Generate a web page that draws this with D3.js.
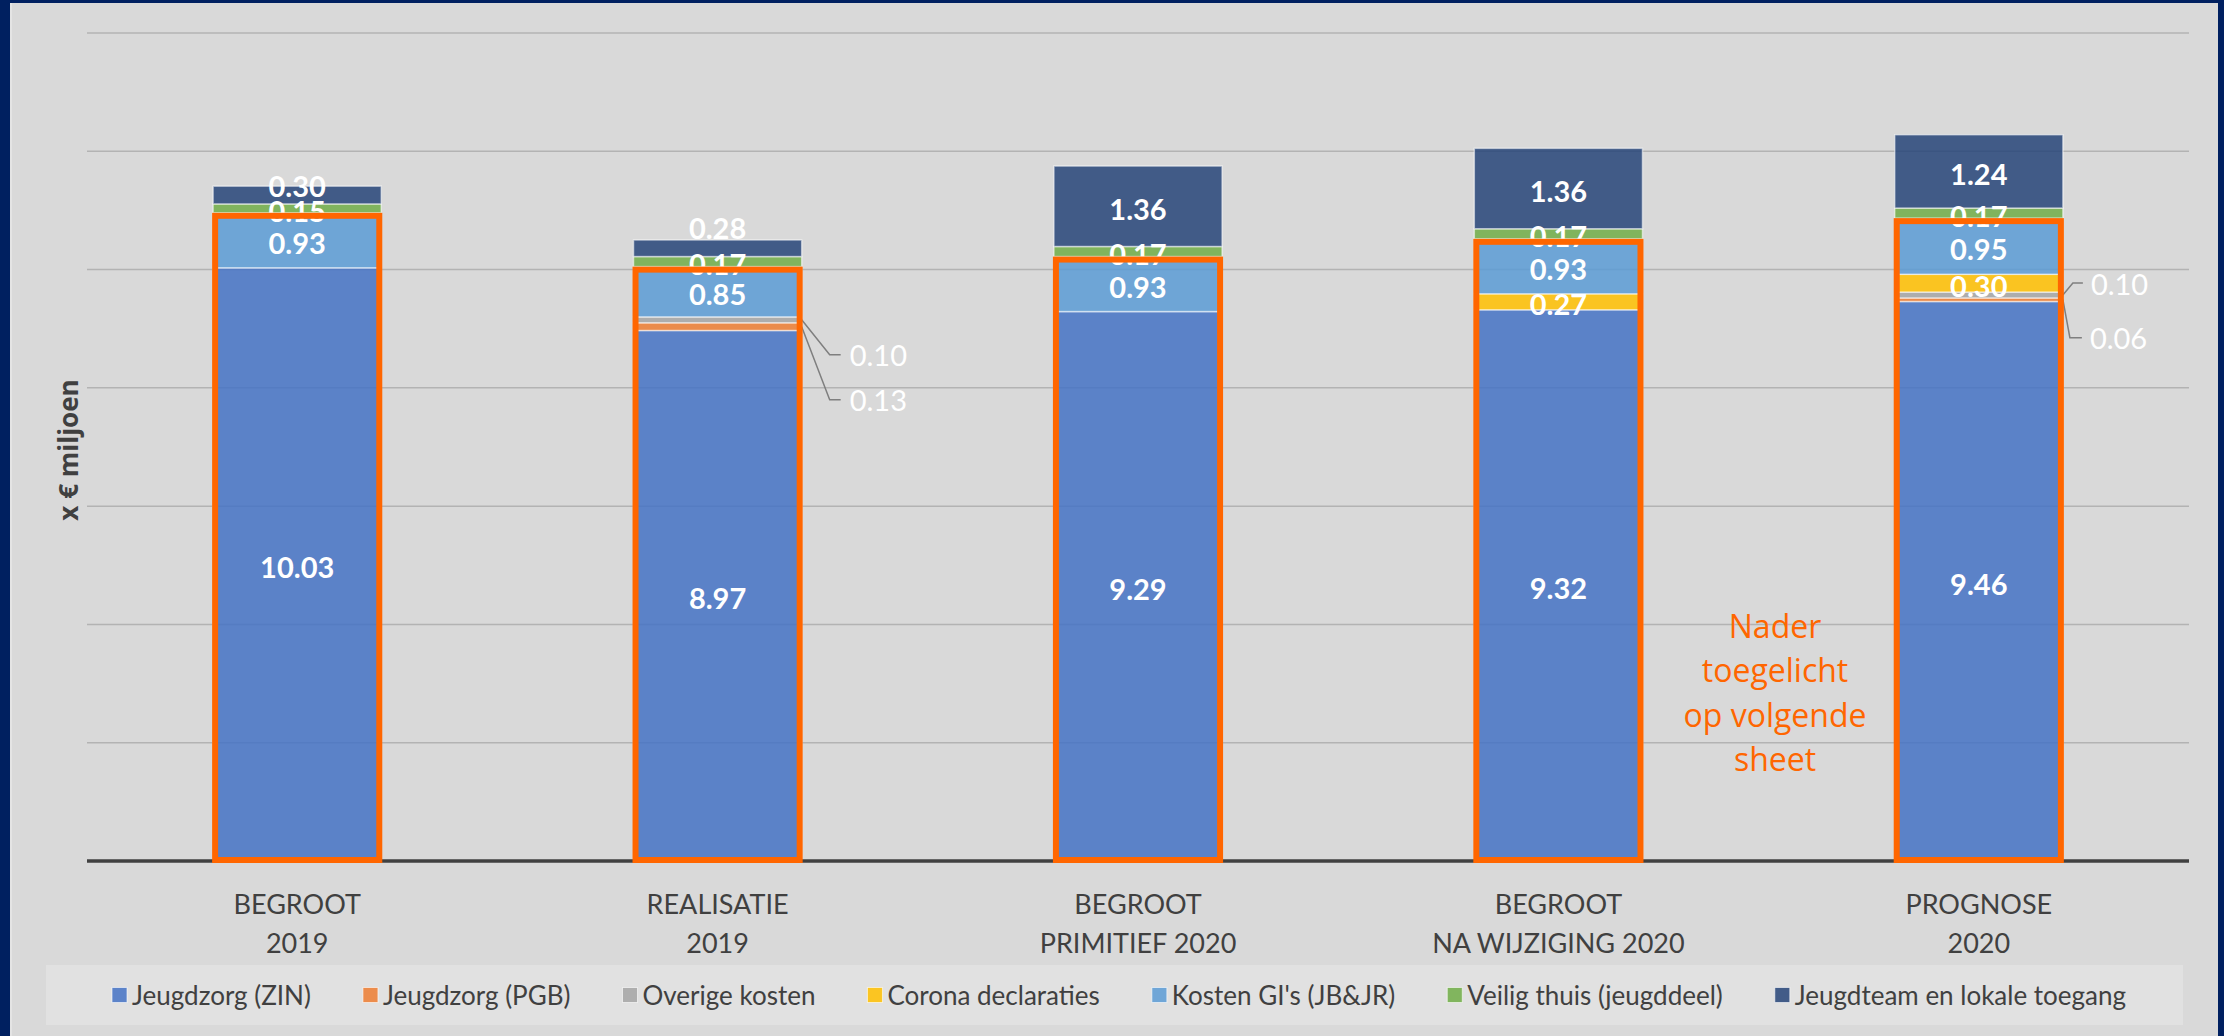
<!DOCTYPE html>
<html><head><meta charset="utf-8">
<script src="https://cdn.jsdelivr.net/npm/d3@7/dist/d3.min.js"></script>
<style>html,body{margin:0;padding:0;background:#002060;}svg{display:block;}</style>
</head><body>
<svg id="chart" width="2224" height="1036"></svg>
<script>
// ---- data ----
const categories = ["BEGROOT|2019", "REALISATIE|2019", "BEGROOT|PRIMITIEF 2020", "BEGROOT|NA WIJZIGING 2020", "PROGNOSE|2020"];
const seriesNames = ["Jeugdzorg (ZIN)", "Jeugdzorg (PGB)", "Overige kosten", "Corona declaraties", "Kosten GI's (JB&JR)", "Veilig thuis (jeugddeel)", "Jeugdteam en lokale toegang"];
const jeugdzorgZIN = [10.03, 8.97, 9.29, 9.32, 9.46];
const jeugdzorgPGB = [0, 0.13, 0, 0, 0.06];
const overigeKosten = [0, 0.10, 0, 0, 0.10];
const coronaDeclaraties = [0, 0, 0, 0.27, 0.30];
const kostenGI = [0.93, 0.85, 0.93, 0.93, 0.95];
const veiligThuis = [0.15, 0.17, 0.17, 0.17, 0.17];
const jeugdteam = [0.30, 0.28, 1.36, 1.36, 1.24];
const yTicks = [0, 2, 4, 6, 8, 10, 12, 14];
const annotationLines = ["Nader", "toegelicht", "op volgende", "sheet"];
const axisTitle = "x  € miljoen";

// ---- styling / layout ----
const colors = ["#4472C4", "#ED7D31", "#A5A5A5", "#FFC000", "#5B9BD5", "#70AD47", "#264478"];
const seriesData = [jeugdzorgZIN, jeugdzorgPGB, overigeKosten, coronaDeclaraties, kostenGI, veiligThuis, jeugdteam];
const keys = seriesNames;
const table = categories.map((c, i) => {
  const row = {cat: c};
  keys.forEach((k, j) => row[k] = seriesData[j][i]);
  return row;
});

const svg = d3.select("#chart");
const W = 2224, H = 1036;
svg.append("rect").attr("x", 0).attr("y", 0).attr("width", W).attr("height", H).attr("fill", "#002060");
svg.append("rect").attr("x", 10).attr("y", 3).attr("width", 2208).attr("height", H - 3).attr("fill", "#d9d9d9");
svg.append("line").attr("x1", 11).attr("x2", 11).attr("y1", 3).attr("y2", H).attr("stroke", "#e4e4e4").attr("stroke-width", 2);

const plot = {left: 87, right: 2189, top: 33, bottom: 861};
const x = d3.scaleBand().domain(categories).range([plot.left, plot.right]).paddingInner(0.6).paddingOuter(0.3);
const y = d3.scaleLinear().domain([0, 14]).range([plot.bottom, plot.top]);

// gridlines
svg.append("g").selectAll("line").data(yTicks.filter(t => t > 0)).join("line")
  .attr("x1", plot.left).attr("x2", plot.right)
  .attr("y1", d => y(d)).attr("y2", d => y(d))
  .attr("stroke", "#b3b3b3").attr("stroke-width", 1.5);

const stack = d3.stack().keys(keys);
const stacked = stack(table);

// bars
const gBars = svg.append("g");
stacked.forEach((s, si) => {
  gBars.append("g").selectAll("rect").data(s.filter(d => d[1] - d[0] > 0)).join("rect")
    .attr("x", d => x(d.data.cat))
    .attr("width", x.bandwidth())
    .attr("y", d => y(d[1]))
    .attr("height", d => y(d[0]) - y(d[1]))
    .attr("fill", colors[si]).attr("fill-opacity", 0.85)
    .attr("stroke", "rgba(255,255,255,0.55)").attr("stroke-width", 1.5);
});

// baseline
svg.append("line").attr("x1", plot.left).attr("x2", plot.right).attr("y1", y(0)).attr("y2", y(0))
  .attr("stroke", "#404040").attr("stroke-width", 3.5);

// labels
const labelFont = "Lato, 'Open Sans', sans-serif";
const openFont = "'Open Sans', 'DejaVu Sans', sans-serif";
const topNudge = {"0|6": -12, "1|6": -23};
const callouts = {
  "1|2": {dy: 35, elbow: 28, end: 39, text: 48},
  "1|1": {dy: 73, elbow: 28, end: 39, text: 48},
  "4|2": {dy: -12, elbow: 10, end: 20, text: 28},
  "4|1": {dy: 38, elbow: 7, end: 19, text: 27}
};
const gLabels = svg.append("g");
const gCallouts = svg.append("g");
stacked.forEach((s, si) => {
  s.forEach((d, ci) => {
    const v = d[1] - d[0];
    if (v <= 0) return;
    const cy = (y(d[0]) + y(d[1])) / 2;
    const key = ci + "|" + si;
    const txt = d3.format(".2f")(seriesData[si][ci]);
    if (callouts[key]) {
      const c = callouts[key];
      const xr = x(d.data.cat) + x.bandwidth();
      const ly = cy + c.dy;
      gCallouts.append("polyline")
        .attr("points", [[xr, cy], [xr + c.elbow, ly], [xr + c.end, ly]].map(p => p.join(",")).join(" "))
        .attr("fill", "none").attr("stroke", "#7f7f7f").attr("stroke-width", 1.5);
      gCallouts.append("text").attr("x", xr + c.text).attr("y", ly)
        .attr("dominant-baseline", "central").attr("fill", "#ffffff")
        .attr("font-family", labelFont).attr("font-size", 29).text(txt);
    } else {
      gLabels.append("text")
        .attr("x", x(d.data.cat) + x.bandwidth() / 2)
        .attr("y", cy + 2 + (topNudge[key] || 0))
        .attr("text-anchor", "middle").attr("dominant-baseline", "central")
        .attr("fill", "#ffffff").attr("font-weight", "bold")
        .attr("font-family", labelFont).attr("font-size", 29).text(txt);
    }
  });
});

// orange highlight boxes (over the labels) around ZIN..GI
const giIndex = keys.indexOf("Kosten GI's (JB&JR)");
svg.append("g").selectAll("rect").data(stacked[giIndex]).join("rect")
  .attr("x", d => x(d.data.cat) - 1 + 3)
  .attr("width", x.bandwidth() + 2 - 6)
  .attr("y", d => y(d[1]) + 3)
  .attr("height", d => (y(0) + 2 - 3) - (y(d[1]) + 3))
  .attr("fill", "none").attr("stroke", "#ff6600").attr("stroke-width", 6);

// axis title
svg.append("text").attr("transform", "translate(68,450) rotate(-90)")
  .attr("text-anchor", "middle").attr("dominant-baseline", "central")
  .attr("fill", "#404040").attr("font-weight", "bold")
  .attr("font-family", openFont).attr("font-size", 26).text(axisTitle);

// category labels
const catFont = labelFont;
const gCat = svg.append("g");
categories.forEach(c => {
  const lines = c.split("|");
  lines.forEach((ln, li) => {
    gCat.append("text").attr("x", x(c) + x.bandwidth() / 2).attr("y", 903 + li * 39)
      .attr("text-anchor", "middle").attr("dominant-baseline", "central")
      .attr("fill", "#404040").attr("font-family", catFont).attr("font-size", 27).text(ln);
  });
});

// annotation
const gAnn = svg.append("g");
annotationLines.forEach((ln, i) => {
  gAnn.append("text").attr("x", 1775).attr("y", 625 + i * 44.5)
    .attr("text-anchor", "middle").attr("dominant-baseline", "central")
    .attr("fill", "#ff6600").attr("font-family", openFont).attr("font-size", 32).text(ln);
});

// legend
svg.append("rect").attr("x", 46).attr("y", 965).attr("width", 2137).attr("height", 60).attr("fill", "#e1e1e1");
const gLeg = svg.append("g");
const legY = 995;
const items = keys.map((k, i) => {
  const g = gLeg.append("g");
  g.append("rect").attr("x", 0).attr("y", legY - 7.5).attr("width", 15).attr("height", 15)
    .attr("fill", colors[i]).attr("fill-opacity", 0.85).attr("stroke", "rgba(255,255,255,0.6)").attr("stroke-width", 1);
  const t = g.append("text").attr("x", 20).attr("y", legY).attr("dominant-baseline", "central")
    .attr("fill", "#404040").attr("font-family", catFont).attr("font-size", 26).text(k);
  return {g, w: 20 + t.node().getComputedTextLength()};
});
const legStart = 112, legEnd = 2126;
const totalW = d3.sum(items, d => d.w);
const gap = (legEnd - legStart - totalW) / (items.length - 1);
let cx = legStart;
items.forEach(it => { it.g.attr("transform", `translate(${cx},0)`); cx += it.w + gap; });
</script>
</body></html>
